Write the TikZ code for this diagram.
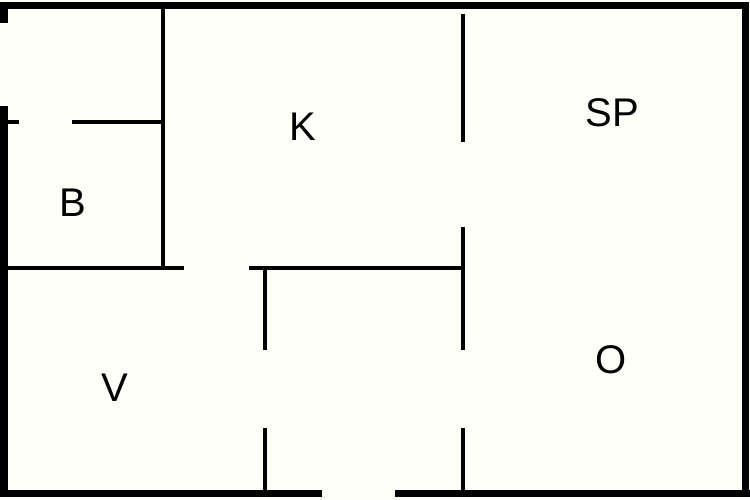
\documentclass[tikz,border=0pt]{standalone}
\usepackage{fontspec}
\setmainfont{Liberation Sans}
\begin{document}
\begin{tikzpicture}[x=1pt,y=-1pt,
  outer/.style={line width=7pt,line cap=butt},
  inner/.style={line width=3.5pt,line cap=butt},
  lab/.style={font=\fontsize{40}{40}\selectfont,inner sep=0pt}]
\fill[white!98!yellow] (0,0) rectangle (750,500);
\useasboundingbox (0,0) rectangle (750,500);
% outer walls
\draw[outer] (0,5.5) -- (748,5.5);
\draw[outer] (4,2) -- (4,23);
\draw[outer] (4,106) -- (4,497);
\draw[outer] (745,2) -- (745,497);
\draw[outer] (0,493.5) -- (322,493.5);
\draw[outer] (395,493.5) -- (750,493.5);
% inner walls
\draw[inner] (163,5) -- (163,270);
\draw[inner] (7,122) -- (19,122);
\draw[inner] (72,122) -- (163,122);
\draw[inner] (5,268) -- (184,268);
\draw[inner] (249,268) -- (465,268);
\draw[inner] (265,268) -- (265,350);
\draw[inner] (265,428) -- (265,493);
\draw[inner] (463,14) -- (463,142);
\draw[inner] (463,227) -- (463,350);
\draw[inner] (463,428) -- (463,493);
% labels
\node[lab] (k) at (303,127) {K};
\node[lab] (sp) at (612,113) {SP};
\node[lab] (b) at (73,203) {B};
\node[lab] (v) at (115,388) {V};
\node[lab] (o) at (611,360) {O};
\end{tikzpicture}
\end{document}
